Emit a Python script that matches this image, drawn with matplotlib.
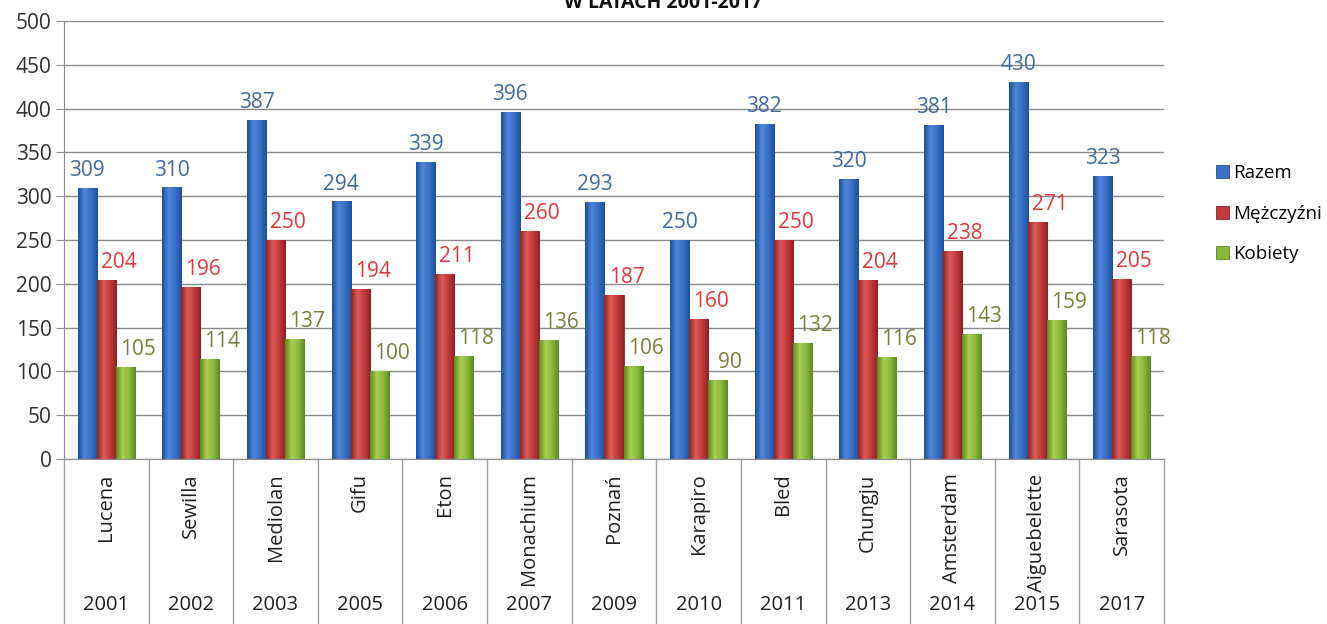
import matplotlib
matplotlib.use("Agg")
from matplotlib import pyplot as plt
from matplotlib.colors import LinearSegmentedColormap
import numpy as np

plt.rcParams['font.family'] = ['Open Sans', 'DejaVu Sans']

# dane z wykresu
miasta = ["Lucena", "Sewilla", "Mediolan", "Gifu", "Eton", "Monachium", "Poznań",
          "Karapiro", "Bled", "Chungju", "Amsterdam", "Aiguebelette", "Sarasota"]
lata = ["2001", "2002", "2003", "2005", "2006", "2007", "2009",
        "2010", "2011", "2013", "2014", "2015", "2017"]
razem = [309, 310, 387, 294, 339, 396, 293, 250, 382, 320, 381, 430, 323]
mezczyzni = [204, 196, 250, 194, 211, 260, 187, 160, 250, 204, 238, 271, 205]
kobiety = [105, 114, 137, 100, 118, 136, 106, 90, 132, 116, 143, 159, 118]

serie = [
    ("Razem", razem, ["#1d4f9c", "#4f86d8", "#3a6fc4", "#1d4f9c"], "#3f6a9e"),
    ("Mężczyźni", mezczyzni, ["#8e2224", "#dc5a58", "#c23a3b", "#8e2224"], "#e2363c"),
    ("Kobiety", kobiety, ["#5b8a22", "#a9d052", "#8bb83c", "#5b8a22"], "#7a7f3c"),
]

fig = plt.figure(figsize=(13.27, 6.24), dpi=100)
ax = fig.add_axes([0.0482, 0.2644, 0.8290, 0.7019])

x = np.arange(len(miasta))
w = 0.225
for i, (nazwa, vals, grad, kol_txt) in enumerate(serie):
    pos = x + (i - 1) * w
    bars = ax.bar(pos, vals, w, color=grad[2], edgecolor=grad[0], linewidth=0.6,
                  label=nazwa, zorder=2)
    cmap = LinearSegmentedColormap.from_list(nazwa, grad)
    for b in bars:
        img = ax.imshow(np.linspace(0, 1, 64).reshape(1, -1), cmap=cmap,
                        extent=(b.get_x(), b.get_x() + b.get_width(), 0, b.get_height()),
                        aspect='auto', zorder=2.5)
        img.set_clip_path(b)
    dx = 0 if i == 0 else 9
    for p, v in zip(pos, vals):
        ax.annotate(str(v), (p, v), xytext=(dx, 5), textcoords='offset points',
                    ha='center', va='bottom', fontsize=15, color=kol_txt, zorder=4)

ax.set_xlim(-0.5, len(miasta) - 0.5)
ax.set_ylim(0, 500)
ax.set_yticks(range(0, 501, 50))
ax.yaxis.grid(True, color='#8c8c8c', linewidth=1.0, zorder=0)
ax.set_axisbelow(True)
ax.tick_params(axis='y', labelsize=15, labelcolor='#303030', length=6,
               color='#8c8c8c', pad=3)
ax.set_xticks([])
for s in ['top', 'right']:
    ax.spines[s].set_visible(False)
ax.spines['left'].set_color('#8c8c8c')
ax.spines['bottom'].set_color('#8c8c8c')

# dwupoziomowa oś X
for k in range(len(miasta) + 1):
    ax.plot([k - 0.5, k - 0.5], [0, -0.38], transform=ax.get_xaxis_transform(),
            color='#a0a0a0', linewidth=1.0, clip_on=False)
for k in range(len(miasta)):
    ax.text(k, -0.033, miasta[k], transform=ax.get_xaxis_transform(), rotation=90,
            ha='center', va='top', fontsize=14.5, color='#202020')
    ax.text(k, -0.333, lata[k], transform=ax.get_xaxis_transform(),
            ha='center', va='center', fontsize=14.5, color='#202020')

fig.text(0.5, 0.995, "W LATACH 2001-2017", ha='center', va='center',
         fontsize=14, fontweight='bold', color='#101010')

ax.legend(loc='center left', bbox_to_anchor=(1.04, 0.56), frameon=False,
          fontsize=13.5, handlelength=0.7, handleheight=0.7, handletextpad=0.25,
          labelspacing=1.2, borderaxespad=0)

fig.savefig("out.png", dpi=100)
